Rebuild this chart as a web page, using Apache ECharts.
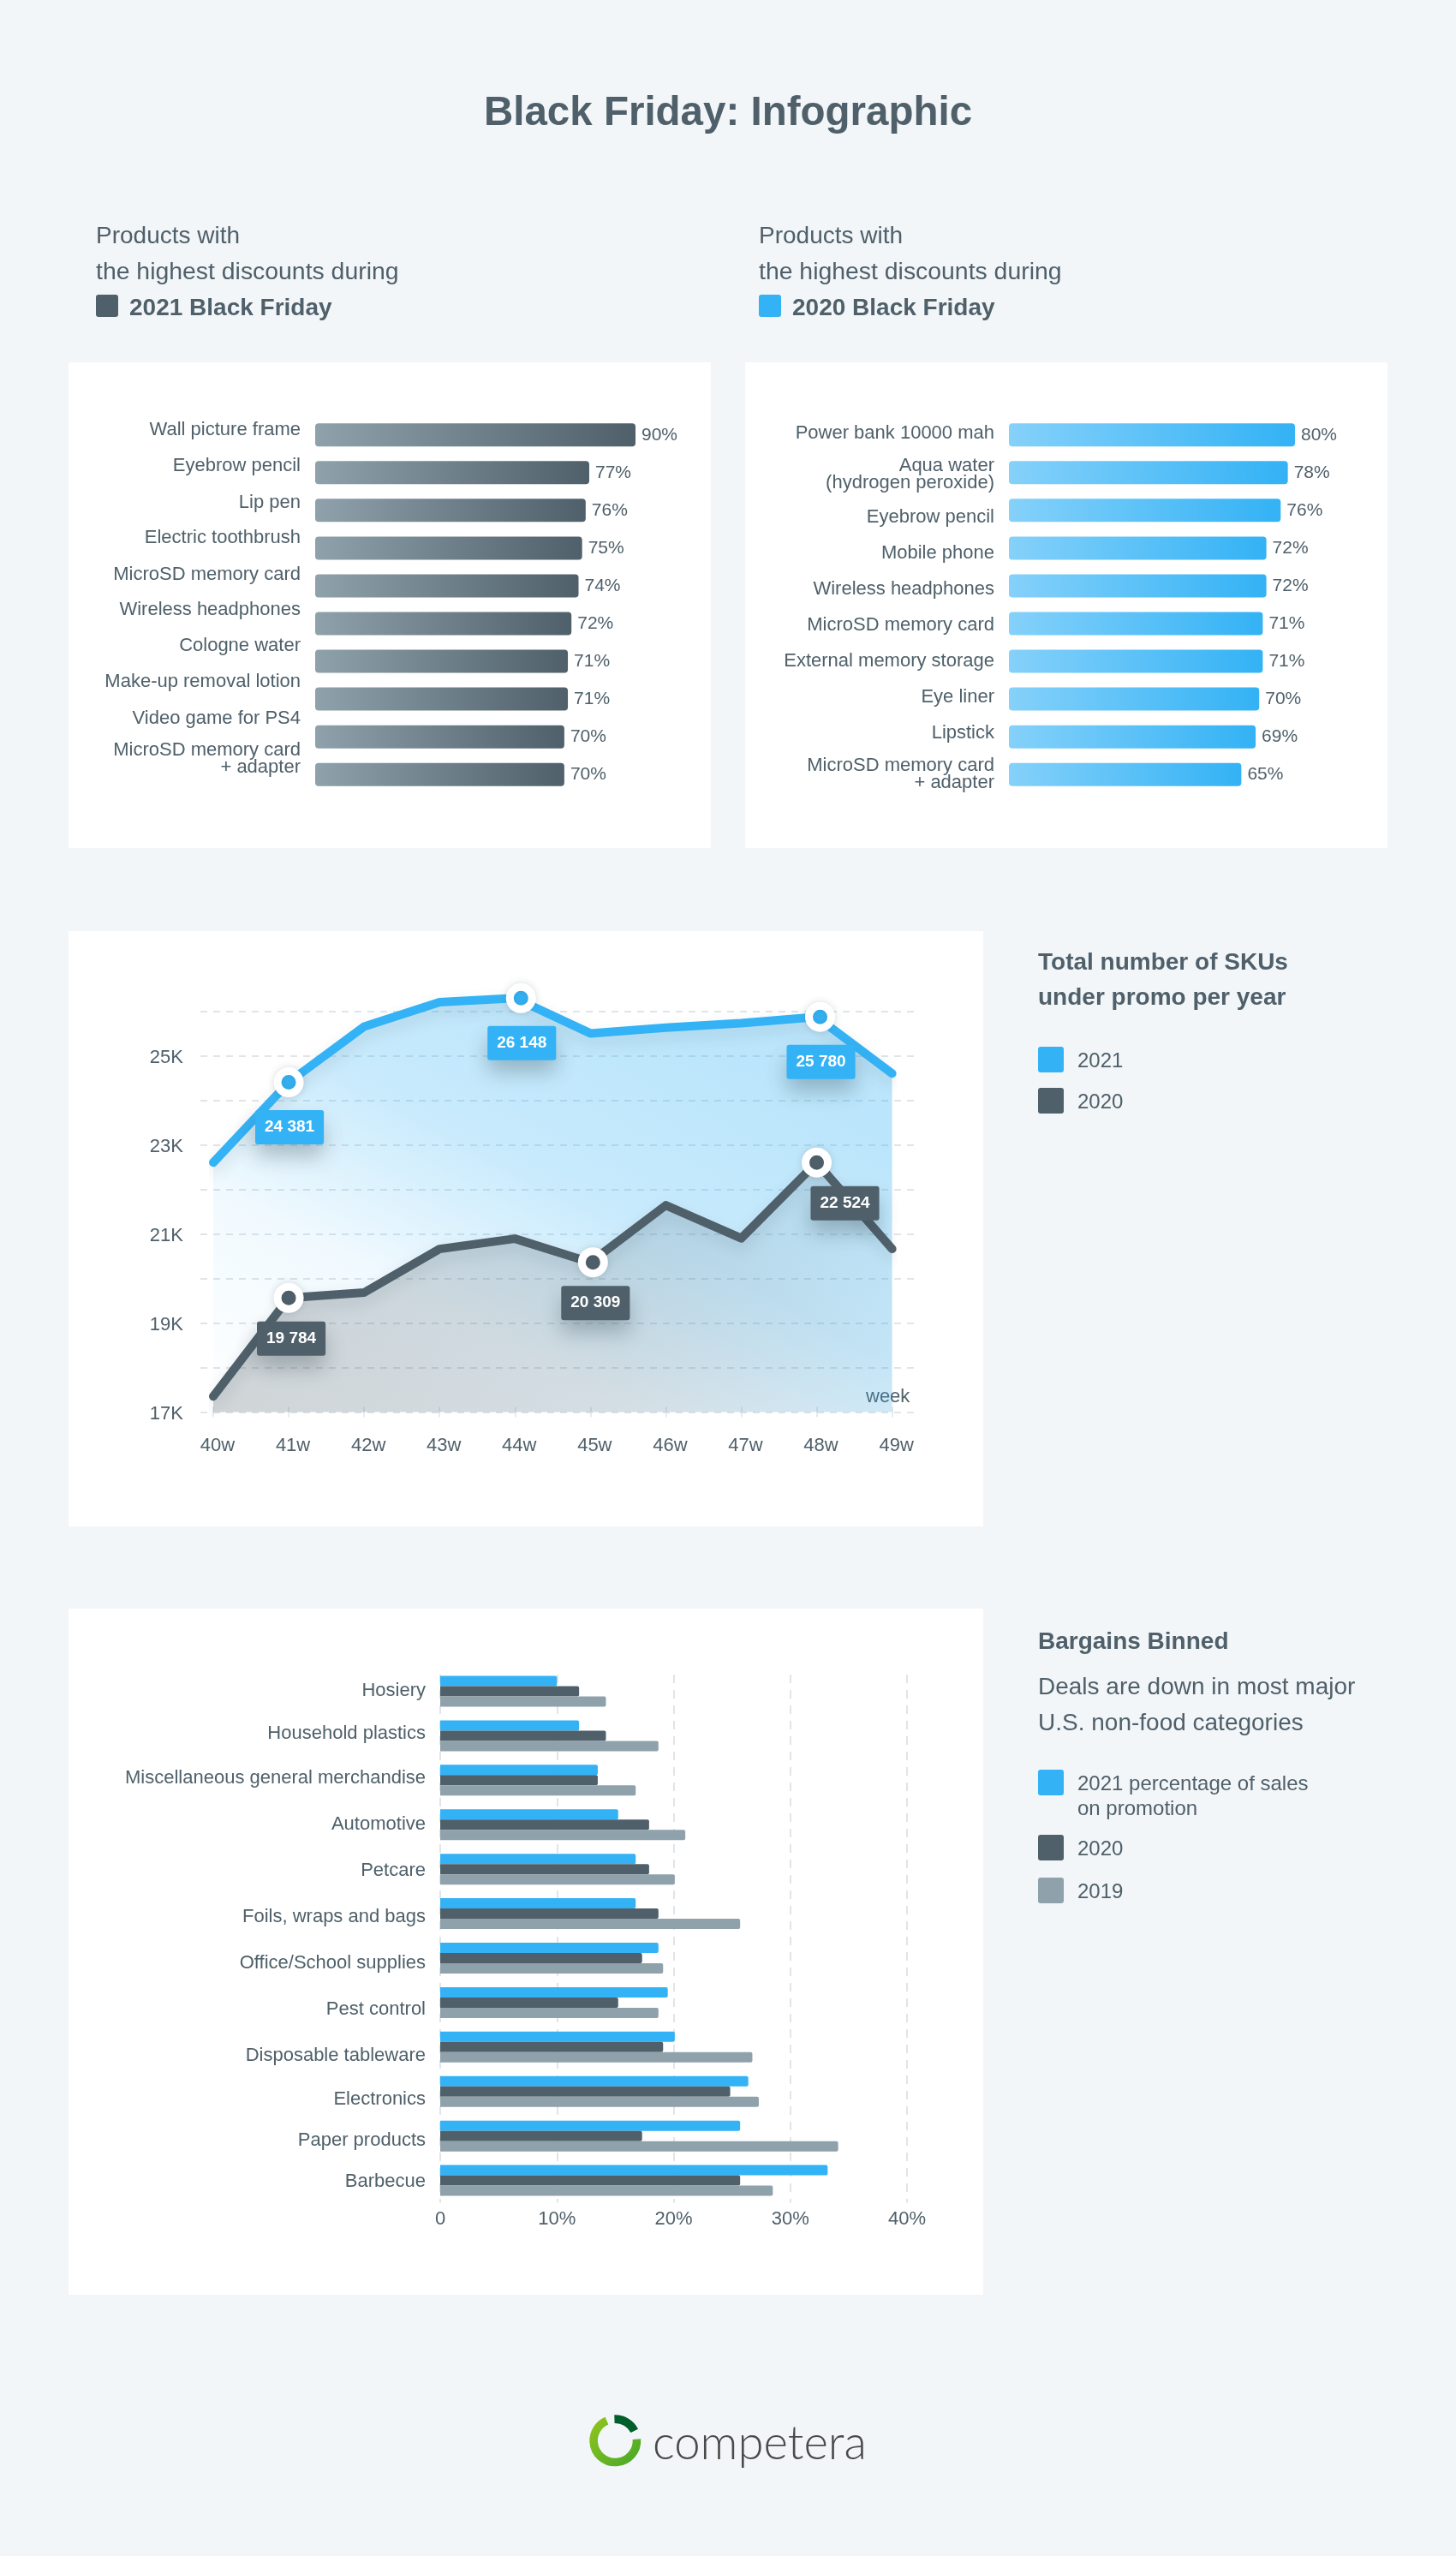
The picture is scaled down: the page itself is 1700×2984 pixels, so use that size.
<!DOCTYPE html>
<html>
<head>
<meta charset="utf-8">
<title>Black Friday: Infographic</title>
<script src="https://cdn.jsdelivr.net/npm/echarts@6/dist/echarts.min.js"></script>
<style>
  html, body { margin: 0; padding: 0; background: #f3f6f9; }
  #main { width: 1700px; height: 2984px; }
</style>
</head>
<body>
<div id="main"></div>
<script>
// discounts, 2021
var products2021 = ['Wall picture frame', 'Eyebrow pencil', 'Lip pen', 'Electric toothbrush', 'MicroSD memory card',
    'Wireless headphones', 'Cologne water', 'Make-up removal lotion', 'Video game for PS4', 'MicroSD memory card\n+ adapter'];
var discounts2021 = [90, 77, 76, 75, 74, 72, 71, 71, 70, 70];

// discounts, 2020
var products2020 = ['Power bank 10000 mah', 'Aqua water\n(hydrogen peroxide)', 'Eyebrow pencil', 'Mobile phone', 'Wireless headphones',
    'MicroSD memory card', 'External memory storage', 'Eye liner', 'Lipstick', 'MicroSD memory card\n+ adapter'];
var discounts2020 = [80, 78, 76, 72, 72, 71, 71, 70, 69, 65];

// SKUs per week
var weeks = ['40w', '41w', '42w', '43w', '44w', '45w', '46w', '47w', '48w', '49w'];
var skus2021 = [22600, 24400, 25650, 26200, 26290, 25500, 25630, 25730, 25870, 24600];
var skus2020 = [17350, 19560, 19680, 20660, 20890, 20360, 21640, 20900, 22600, 20660];
var callouts2021 = { 1: '24 381', 4: '26 148', 8: '25 780' };
var callouts2020 = { 1: '19 784', 5: '20 309', 8: '22 524' };

// promo share per category
var categories = ['Hosiery', 'Household plastics', 'Miscellaneous general merchandise', 'Automotive', 'Petcare', 'Foils, wraps and bags',
    'Office/School supplies', 'Pest control', 'Disposable tableware', 'Electronics', 'Paper products', 'Barbecue'];
var share2021 = [10, 11.9, 13.5, 15.25, 16.75, 16.75, 18.7, 19.5, 20.1, 26.4, 25.7, 33.2];
var share2020 = [11.9, 14.2, 13.5, 17.9, 17.9, 18.7, 17.3, 15.25, 19.1, 24.85, 17.3, 25.7];
var share2019 = [14.2, 18.7, 16.75, 21, 20.1, 25.7, 19.1, 18.7, 26.75, 27.3, 34.1, 28.5];

var FONT = '"Liberation Sans", Arial, sans-serif';
var INK = '#4f606a';
var BLUE = '#33b2f5';
var GREY = '#8fa1aa';
var RULE = '#dfe5e9';
var SWATCH = 'path://M3 0H27Q30 0 30 3V27Q30 30 27 30H3Q0 30 0 27V3Q0 0 3 0Z';

// the source's labels do not sit on their bars, so they get their own axes (px from the grid top)
var labelTops2021 = [16.5, 58.7, 101, 142.6, 184.9, 226.6, 268, 310.5, 353, 399.9];
var labelTops2020 = [20, 67.9, 118, 160, 202, 243.9, 286, 328.3, 369.9, 418];
var labelTopsPromo = [19, 68.6, 121, 175, 229, 283, 337, 391, 445, 495.5, 543.5, 591.5];

function labelAxis(idx, names, tops, size) {
    return {
        type: 'value', gridIndex: idx, inverse: true, min: 0, max: size, position: 'left',
        axisLine: { show: false }, axisTick: { show: false }, splitLine: { show: false },
        axisLabel: {
            customValues: tops, margin: 17, fontSize: 22, lineHeight: 20, color: INK, fontFamily: FONT,
            showMinLabel: true, showMaxLabel: true,
            formatter: function (v) { return names[tops.indexOf(v)]; }
        }
    };
}

function hiddenCategories(idx, names) {
    return { type: 'category', gridIndex: idx, inverse: true, data: names, show: false };
}

function grad(from, to) {
    return new echarts.graphic.LinearGradient(0, 0, 1, 0, [{ offset: 0, color: from }, { offset: 1, color: to }]);
}

function discountBars(idx, values, from, to) {
    return {
        type: 'bar', xAxisIndex: idx, yAxisIndex: idx, data: values, barWidth: 27,
        itemStyle: { color: grad(from, to), borderRadius: 4 },
        label: { show: true, position: 'right', distance: 7, formatter: '{c}%', fontSize: 21, color: INK, fontFamily: FONT }
    };
}

function callout(text, color, distance, shift) {
    return {
        show: true, position: 'bottom', distance: distance, offset: shift, formatter: text,
        backgroundColor: color, color: '#fff', fontWeight: 'bold', fontSize: 19, lineHeight: 20, fontFamily: FONT,
        padding: [10, 11], borderRadius: 3, shadowBlur: 24, shadowOffsetY: 14, shadowColor: 'rgba(40,60,70,0.3)'
    };
}

function skuData(values, callouts, color, distance, symbolShift, labelShift) {
    return values.map(function (v, i) {
        if (!callouts[i]) return { value: v, symbol: 'none' };
        return {
            value: v, symbol: 'circle', symbolSize: 26, symbolOffset: symbolShift[i] || [0, 0],
            label: callout(callouts[i], color, distance, labelShift[i] || [0, 0])
        };
    });
}

function skuLine(name, values, callouts, color, area, distance, symbolShift, labelShift) {
    return {
        name: name, type: 'line', xAxisIndex: 3, yAxisIndex: 3, clip: false, showAllSymbol: true, smooth: false,
        data: skuData(values, callouts, color, distance, symbolShift, labelShift),
        lineStyle: { color: color, width: 10, cap: 'round', join: 'round', shadowBlur: 18, shadowOffsetY: 8, shadowColor: 'rgba(40,60,70,0.14)' },
        itemStyle: { color: color, borderColor: '#fff', borderWidth: 9, shadowBlur: 10, shadowColor: 'rgba(40,60,70,0.15)' },
        areaStyle: { color: area, origin: 'start' }
    };
}

function promoBars(name, values, color) {
    return {
        name: name, type: 'bar', xAxisIndex: 4, yAxisIndex: 4, data: values, barWidth: 12, barGap: 0,
        itemStyle: { color: color, borderRadius: [0, 2, 2, 0] }
    };
}

function txt(x, y, text, size, bold, extra) {
    return {
        type: 'text', x: x, y: y, silent: true,
        style: Object.assign({
            text: text, fontSize: size, fontWeight: bold ? 'bold' : 'normal', fontFamily: FONT, fill: INK, verticalAlign: 'middle'
        }, extra)
    };
}

function box(x, y, w, h, color, r) {
    return { type: 'rect', z: -1, silent: true, shape: { x: x, y: y, width: w, height: h, r: r || 0 }, style: { fill: color } };
}

function ring(start, end, stroke) {
    return {
        type: 'arc', silent: true,
        shape: { cx: 718.3, cy: 2849.3, r: 25.2, startAngle: start * Math.PI / 180, endAngle: end * Math.PI / 180, clockwise: true },
        style: { fill: null, stroke: stroke, lineWidth: 9.6 }
    };
}

function legend(top, gap, names) {
    return {
        orient: 'vertical', left: 1212, top: top, padding: 0, itemWidth: 30, itemHeight: 30, itemGap: gap, icon: SWATCH,
        selectedMode: false, data: names,
        itemStyle: { borderWidth: 0, shadowBlur: 0 },
        formatter: function (name) { return '{t|' + name.split('\n')[0] + '}'; },
        textStyle: { rich: { t: { fontSize: 24, color: INK, fontFamily: FONT, padding: [4, 0, 0, 11] } } }
    };
}

var myChart = echarts.init(document.getElementById('main'));

myChart.setOption({
    backgroundColor: '#f3f6f9',
    animation: false,
    textStyle: { fontFamily: FONT },
    tooltip: { show: false },
    grid: [
        { left: 368, top: 485.7, width: 374, height: 440.5 },
        { left: 1178, top: 485.7, width: 334, height: 440.5 },
        { left: 234, top: 1180.4, width: 834, height: 468 },
        { left: 249, top: 1154.4, width: 792.6, height: 494 },
        { left: 514, top: 1948.5, width: 545, height: 623 },
        { left: 514, top: 1955, width: 545, height: 616.5 }
    ],
    xAxis: [
        { type: 'value', gridIndex: 0, min: 0, max: 90, show: false },
        { type: 'value', gridIndex: 1, min: 0, max: 80, show: false },
        { type: 'value', gridIndex: 2, min: 0, max: 1, show: false },
        {
            type: 'category', gridIndex: 3, data: weeks, boundaryGap: false, offset: -6,
            axisLine: { show: false },
            axisTick: { show: true, length: 12, lineStyle: { color: RULE, width: 1.5 } },
            axisLabel: { interval: 0, margin: 35, fontSize: 22, color: INK, fontFamily: FONT, padding: [0, 0, 0, 10] }
        },
        { type: 'value', gridIndex: 4, min: 0, max: 40, show: false },
        {
            type: 'value', gridIndex: 5, min: 0, max: 40, interval: 10,
            axisLine: { show: false }, axisTick: { show: false },
            axisLabel: {
                margin: 8, fontSize: 22, color: INK, fontFamily: FONT,
                formatter: function (v) { return v === 0 ? '0' : v + '%'; }
            },
            splitLine: { show: true, lineStyle: { color: RULE, width: 2, type: [10, 8] } }
        }
    ],
    yAxis: [
        hiddenCategories(0, products2021),
        hiddenCategories(1, products2020),
        {
            type: 'value', gridIndex: 2, min: 17000, max: 26000, interval: 1000,
            axisLine: { show: false }, axisTick: { show: false },
            axisLabel: {
                margin: 20,
                formatter: function (v) { return (v / 1000) % 2 === 1 ? '{k|' + (v / 1000) + 'K}' : ''; },
                rich: { k: { fontSize: 22, color: INK, fontFamily: FONT, padding: [6, 0, 0, 0] } }
            },
            splitLine: { show: true, lineStyle: { color: RULE, width: 2, type: [8, 7] } }
        },
        { type: 'value', gridIndex: 3, min: 17000, max: 26500, show: false },
        hiddenCategories(4, categories),
        labelAxis(5, categories, labelTopsPromo, 616.5),
        labelAxis(0, products2021, labelTops2021, 440.5),
        labelAxis(1, products2020, labelTops2020, 440.5)
    ],
    legend: [
        legend(1222, 18, ['2021', '2020']),
        legend(2066, 0, ['2021 percentage of sales\non promotion']),
        legend(2142, 20, ['2020', '2019'])
    ],
    series: [
        discountBars(0, discounts2021, GREY, INK),
        discountBars(1, discounts2020, '#85d1fa', BLUE),
        skuLine('2021', skus2021, callouts2021, BLUE,
            new echarts.graphic.LinearGradient(0, 1, 0.453, -0.41, [
                { offset: 0, color: 'rgba(51,178,245,0)' },
                { offset: 0.3, color: 'rgba(51,178,245,0.1)' },
                { offset: 0.55, color: 'rgba(51,178,245,0.38)' },
                { offset: 0.85, color: 'rgba(51,178,245,0.48)' }
            ]), 15, { 4: [7, 0], 8: [4, 0] }, { 4: [1, 0], 8: [1, 0], 1: [1, 0] }),
        skuLine('2020', skus2020, callouts2020, INK,
            new echarts.graphic.LinearGradient(0, 0, 1, 0, [
                { offset: 0, color: 'rgba(79,96,106,0.38)' },
                { offset: 0.6, color: 'rgba(79,96,106,0.26)' },
                { offset: 1, color: 'rgba(79,96,106,0.06)' }
            ]), 10, { 5: [3, 0] }, { 1: [3, 0], 5: [3, 0], 8: [33, 0] }),
        promoBars('2021 percentage of sales\non promotion', share2021, BLUE),
        promoBars('2020', share2020, INK),
        promoBars('2019', share2019, GREY)
    ],
    graphic: { elements: [
        box(80, 423, 750, 567, '#fff'),
        box(870, 423, 750, 567, '#fff'),
        box(80, 1087, 1068, 695, '#fff'),
        box(80, 1878, 1068, 801, '#fff'),

        txt(850, 133, 'Black Friday: Infographic', 47.5, true, { align: 'center' }),

        txt(112, 276, 'Products with', 28),
        txt(112, 318.5, 'the highest discounts during', 28.4),
        box(112, 344, 26, 26, INK, 3),
        txt(151, 360, '2021 Black Friday', 28, true),

        txt(886, 276, 'Products with', 28),
        txt(886, 318.5, 'the highest discounts during', 28.4),
        box(886, 344, 26, 26, BLUE, 3),
        txt(925, 360, '2020 Black Friday', 28, true),

        txt(1212, 1124.7, 'Total number of SKUs', 28, true),
        txt(1212, 1165, 'under promo per year', 28, true),

        txt(1212, 1917, 'Bargains Binned', 28, true),
        txt(1212, 1970, 'Deals are down in most major', 28),
        txt(1212, 2012, 'U.S. non-food categories', 28),
        txt(1258, 2112, 'on promotion', 24),

        txt(1011, 1631, 'week', 22),

        ring(-4, 247, new echarts.graphic.LinearGradient(0, 0, 1, 1, [
            { offset: 0, color: '#93c61c' }, { offset: 1, color: '#45a72a' }
        ])),
        ring(-92, -27, '#005f2a'),
        txt(762, 2853, 'competera', 54.5, false, { fontFamily: 'Lato, sans-serif', fontWeight: 300, fill: '#4a4a4a' })
    ] }
});
</script>
</body>
</html>
